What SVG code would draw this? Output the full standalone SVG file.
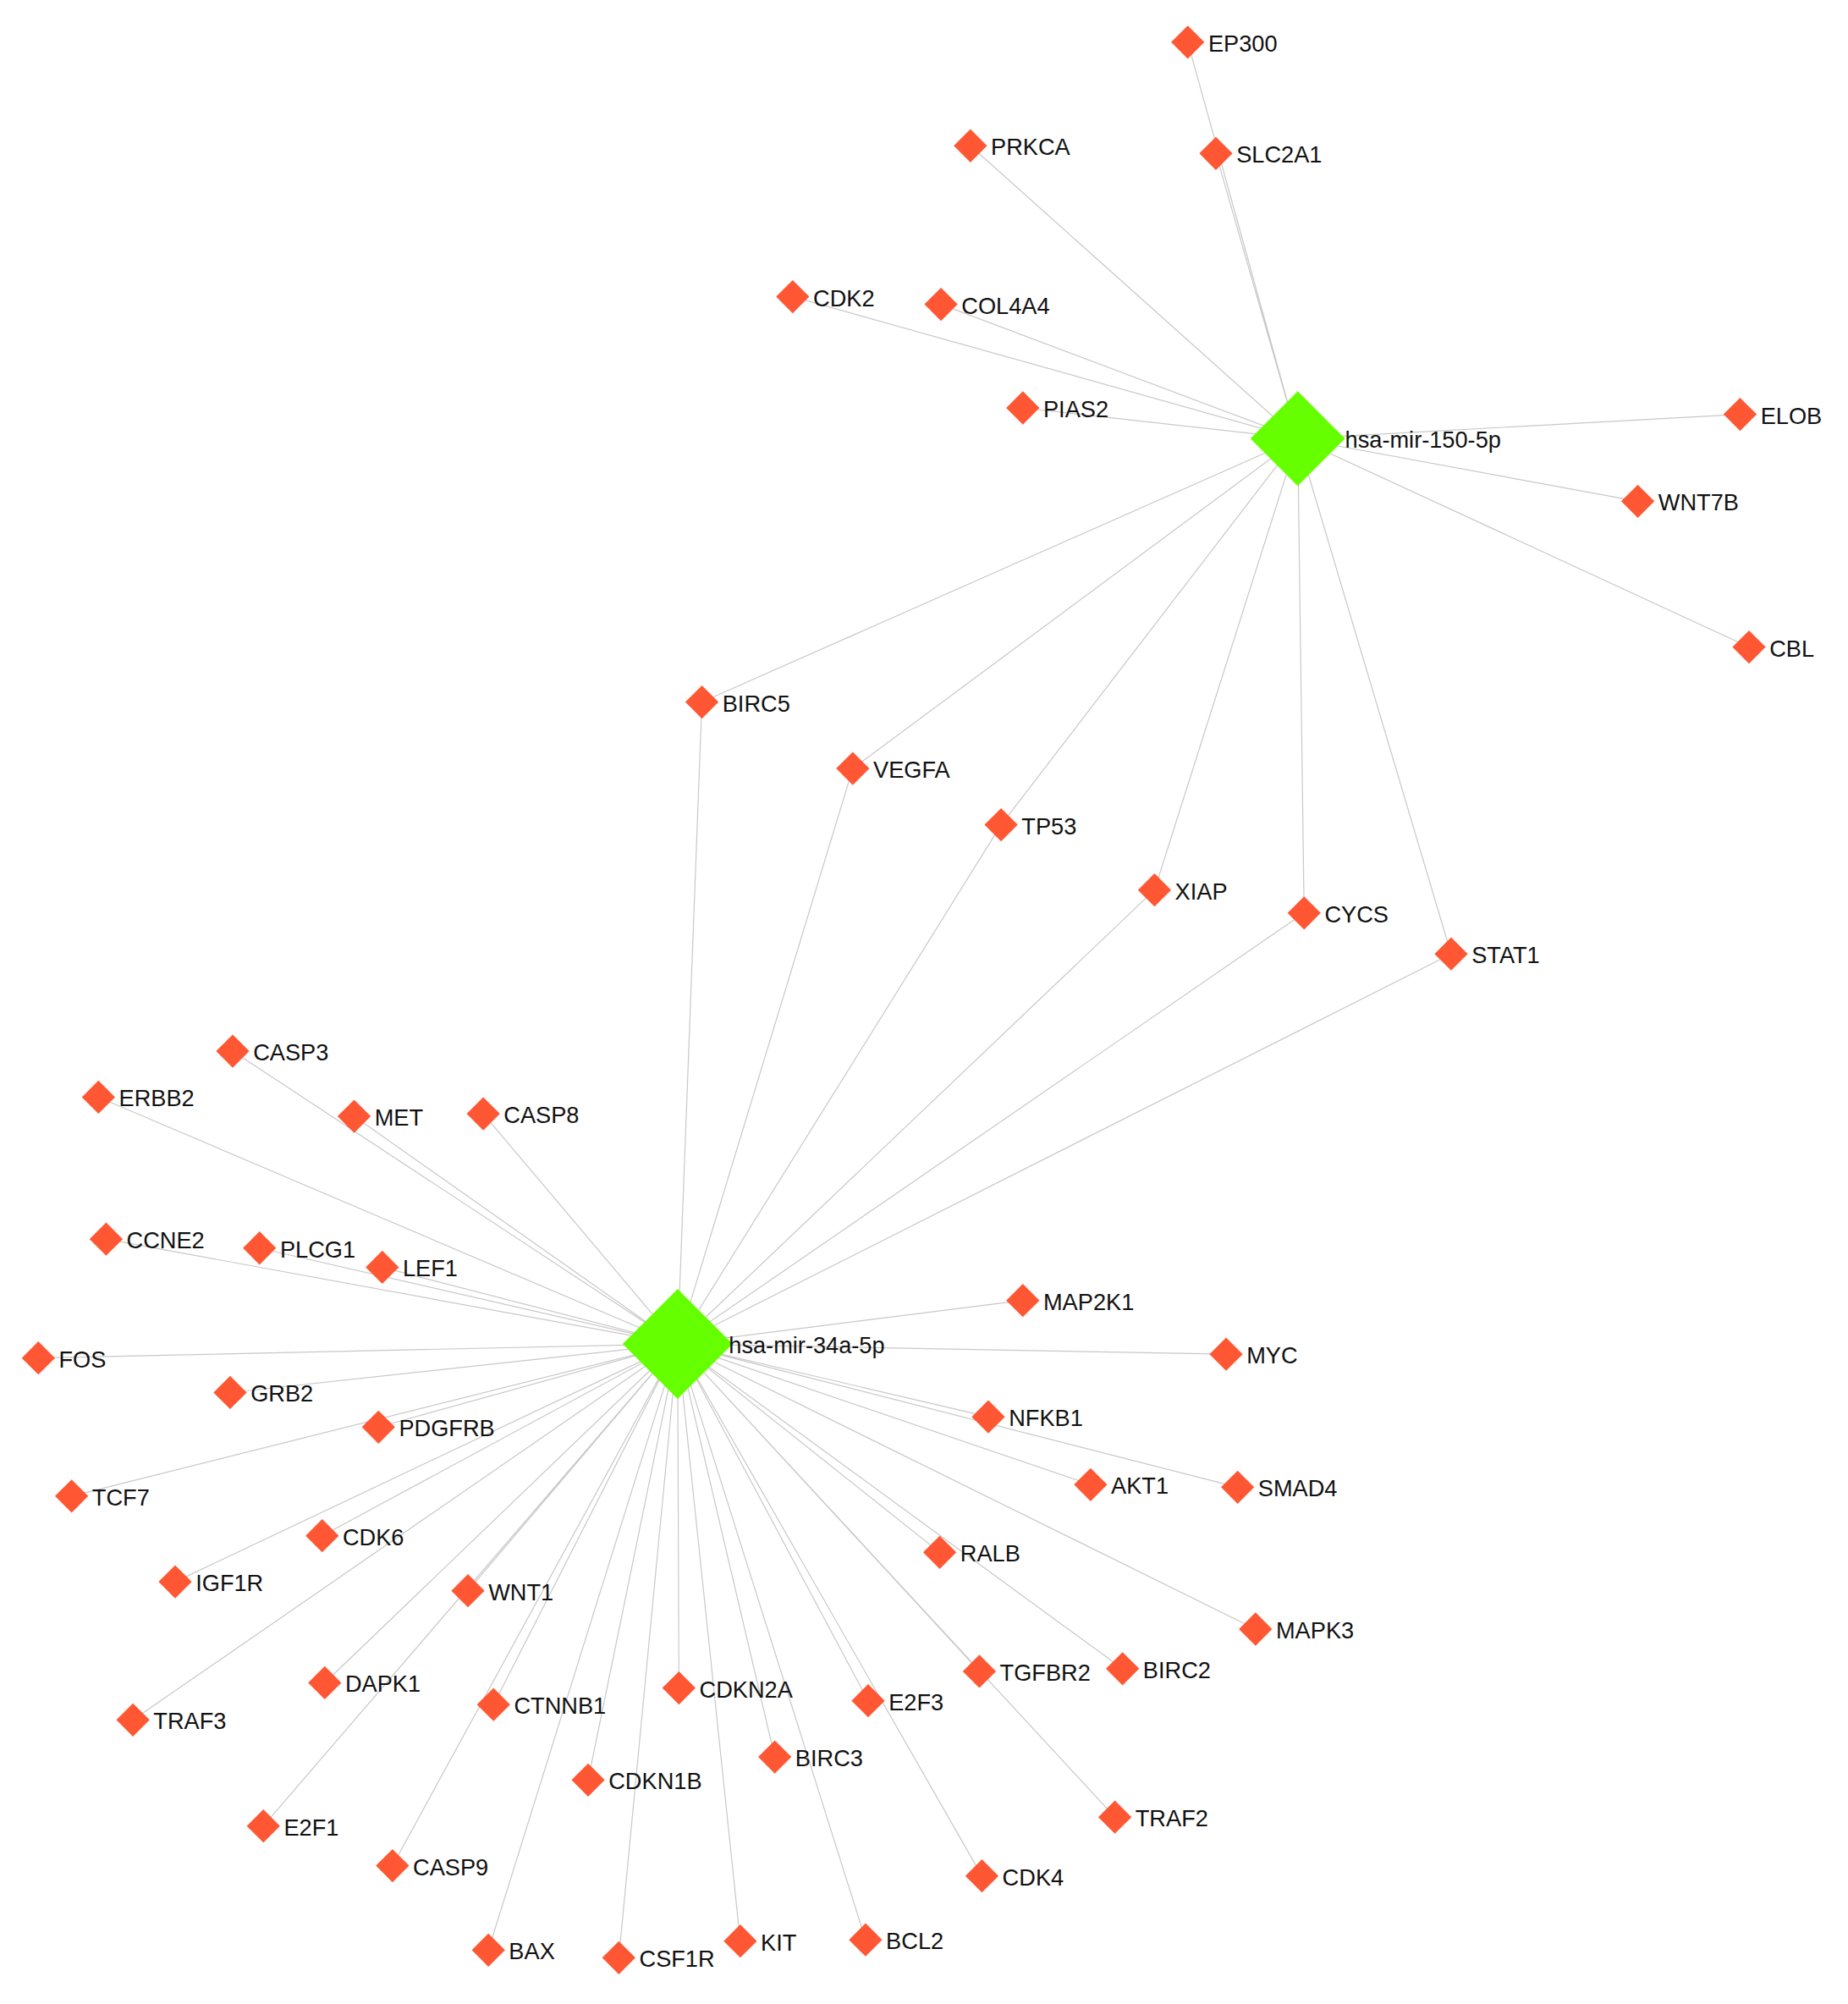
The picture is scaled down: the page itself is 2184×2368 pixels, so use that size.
<svg xmlns="http://www.w3.org/2000/svg" xmlns:xlink="http://www.w3.org/1999/xlink" width="2184" height="2368" viewBox="0 0 2184 2368">
<style>
.e{stroke:#c8c8c8;stroke-width:0.8;fill:none}
.t{font-family:"Liberation Sans",Arial,sans-serif;font-size:18px;fill:#111;dominant-baseline:central}
</style>
<defs>
<polygon id="d" points="0,-13 13,0 0,13 -13,0" fill="#ff5733"/>
<polygon id="h" points="0,-37 37,0 0,37 -37,0" fill="#66ff00"/>
<polygon id="h2" points="0,-43 43,0 0,43 -43,0" fill="#66ff00"/>
</defs>
<rect width="2184" height="2368" fill="#fff"/>
<g transform="scale(1.511)">
<g id="edges">
<path class="e" d="M1015,343L929,33M1015,343L759,114M1015,343L951,120M1015,343L620,232M1015,343L736,238M1015,343L800,319M1015,343L1361,324M1015,343L1281,392M1015,343L1368,506M1015,343L549,549M1015,343L667,601M1015,343L783,645M1015,343L903,696M1015,343L1020,714M1015,343L1135,746"/>
<path class="e" d="M530,1051L549,549M530,1051L667,601M530,1051L783,645M530,1051L903,696M530,1051L1020,714M530,1051L1135,746M530,1051L182,822M530,1051L77,858M530,1051L277,873M530,1051L378,871M530,1051L83,969M530,1051L203,976M530,1051L299,991M530,1051L30,1062M530,1051L180,1089M530,1051L296,1116M530,1051L56,1170M530,1051L252,1201M530,1051L137,1237M530,1051L366,1244M530,1051L104,1345M530,1051L254,1316M530,1051L386,1333M530,1051L531,1320M530,1051L679,1330M530,1051L766,1307M530,1051L878,1305M530,1051L206,1428M530,1051L460,1392M530,1051L606,1374M530,1051L872,1421M530,1051L307,1459M530,1051L768,1467M530,1051L382,1525M530,1051L484,1531M530,1051L579,1518M530,1051L677,1517M530,1051L800,1017M530,1051L959,1059M530,1051L773,1108M530,1051L853,1161M530,1051L968,1163M530,1051L735,1214M530,1051L982,1274"/>
</g>
<g id="hub1" transform="translate(1015,343)"><use href="#h"/><text class="t" x="37" y="1">hsa-mir-150-5p</text></g>
<g id="hub2" transform="translate(530,1051)"><use href="#h2"/><text class="t" x="40" y="1">hsa-mir-34a-5p</text></g>
<g id="EP300" transform="translate(929,33)"><use href="#d"/><text class="t" x="16" y="1">EP300</text></g>
<g id="PRKCA" transform="translate(759,114)"><use href="#d"/><text class="t" x="16" y="1">PRKCA</text></g>
<g id="SLC2A1" transform="translate(951,120)"><use href="#d"/><text class="t" x="16" y="1">SLC2A1</text></g>
<g id="CDK2" transform="translate(620,232)"><use href="#d"/><text class="t" x="16" y="1">CDK2</text></g>
<g id="COL4A4" transform="translate(736,238)"><use href="#d"/><text class="t" x="16" y="1">COL4A4</text></g>
<g id="PIAS2" transform="translate(800,319)"><use href="#d"/><text class="t" x="16" y="1">PIAS2</text></g>
<g id="ELOB" transform="translate(1361,324)"><use href="#d"/><text class="t" x="16" y="1">ELOB</text></g>
<g id="WNT7B" transform="translate(1281,392)"><use href="#d"/><text class="t" x="16" y="1">WNT7B</text></g>
<g id="CBL" transform="translate(1368,506)"><use href="#d"/><text class="t" x="16" y="1">CBL</text></g>
<g id="BIRC5" transform="translate(549,549)"><use href="#d"/><text class="t" x="16" y="1">BIRC5</text></g>
<g id="VEGFA" transform="translate(667,601)"><use href="#d"/><text class="t" x="16" y="1">VEGFA</text></g>
<g id="TP53" transform="translate(783,645)"><use href="#d"/><text class="t" x="16" y="1">TP53</text></g>
<g id="XIAP" transform="translate(903,696)"><use href="#d"/><text class="t" x="16" y="1">XIAP</text></g>
<g id="CYCS" transform="translate(1020,714)"><use href="#d"/><text class="t" x="16" y="1">CYCS</text></g>
<g id="STAT1" transform="translate(1135,746)"><use href="#d"/><text class="t" x="16" y="1">STAT1</text></g>
<g id="CASP3" transform="translate(182,822)"><use href="#d"/><text class="t" x="16" y="1">CASP3</text></g>
<g id="ERBB2" transform="translate(77,858)"><use href="#d"/><text class="t" x="16" y="1">ERBB2</text></g>
<g id="MET" transform="translate(277,873)"><use href="#d"/><text class="t" x="16" y="1">MET</text></g>
<g id="CASP8" transform="translate(378,871)"><use href="#d"/><text class="t" x="16" y="1">CASP8</text></g>
<g id="CCNE2" transform="translate(83,969)"><use href="#d"/><text class="t" x="16" y="1">CCNE2</text></g>
<g id="PLCG1" transform="translate(203,976)"><use href="#d"/><text class="t" x="16" y="1">PLCG1</text></g>
<g id="LEF1" transform="translate(299,991)"><use href="#d"/><text class="t" x="16" y="1">LEF1</text></g>
<g id="FOS" transform="translate(30,1062)"><use href="#d"/><text class="t" x="16" y="1">FOS</text></g>
<g id="GRB2" transform="translate(180,1089)"><use href="#d"/><text class="t" x="16" y="1">GRB2</text></g>
<g id="PDGFRB" transform="translate(296,1116)"><use href="#d"/><text class="t" x="16" y="1">PDGFRB</text></g>
<g id="TCF7" transform="translate(56,1170)"><use href="#d"/><text class="t" x="16" y="1">TCF7</text></g>
<g id="CDK6" transform="translate(252,1201)"><use href="#d"/><text class="t" x="16" y="1">CDK6</text></g>
<g id="IGF1R" transform="translate(137,1237)"><use href="#d"/><text class="t" x="16" y="1">IGF1R</text></g>
<g id="WNT1" transform="translate(366,1244)"><use href="#d"/><text class="t" x="16" y="1">WNT1</text></g>
<g id="TRAF3" transform="translate(104,1345)"><use href="#d"/><text class="t" x="16" y="1">TRAF3</text></g>
<g id="DAPK1" transform="translate(254,1316)"><use href="#d"/><text class="t" x="16" y="1">DAPK1</text></g>
<g id="CTNNB1" transform="translate(386,1333)"><use href="#d"/><text class="t" x="16" y="1">CTNNB1</text></g>
<g id="CDKN2A" transform="translate(531,1320)"><use href="#d"/><text class="t" x="16" y="1">CDKN2A</text></g>
<g id="E2F3" transform="translate(679,1330)"><use href="#d"/><text class="t" x="16" y="1">E2F3</text></g>
<g id="TGFBR2" transform="translate(766,1307)"><use href="#d"/><text class="t" x="16" y="1">TGFBR2</text></g>
<g id="BIRC2" transform="translate(878,1305)"><use href="#d"/><text class="t" x="16" y="1">BIRC2</text></g>
<g id="E2F1" transform="translate(206,1428)"><use href="#d"/><text class="t" x="16" y="1">E2F1</text></g>
<g id="CDKN1B" transform="translate(460,1392)"><use href="#d"/><text class="t" x="16" y="1">CDKN1B</text></g>
<g id="BIRC3" transform="translate(606,1374)"><use href="#d"/><text class="t" x="16" y="1">BIRC3</text></g>
<g id="TRAF2" transform="translate(872,1421)"><use href="#d"/><text class="t" x="16" y="1">TRAF2</text></g>
<g id="CASP9" transform="translate(307,1459)"><use href="#d"/><text class="t" x="16" y="1">CASP9</text></g>
<g id="CDK4" transform="translate(768,1467)"><use href="#d"/><text class="t" x="16" y="1">CDK4</text></g>
<g id="BAX" transform="translate(382,1525)"><use href="#d"/><text class="t" x="16" y="1">BAX</text></g>
<g id="CSF1R" transform="translate(484,1531)"><use href="#d"/><text class="t" x="16" y="1">CSF1R</text></g>
<g id="KIT" transform="translate(579,1518)"><use href="#d"/><text class="t" x="16" y="1">KIT</text></g>
<g id="BCL2" transform="translate(677,1517)"><use href="#d"/><text class="t" x="16" y="1">BCL2</text></g>
<g id="MAP2K1" transform="translate(800,1017)"><use href="#d"/><text class="t" x="16" y="1">MAP2K1</text></g>
<g id="MYC" transform="translate(959,1059)"><use href="#d"/><text class="t" x="16" y="1">MYC</text></g>
<g id="NFKB1" transform="translate(773,1108)"><use href="#d"/><text class="t" x="16" y="1">NFKB1</text></g>
<g id="AKT1" transform="translate(853,1161)"><use href="#d"/><text class="t" x="16" y="1">AKT1</text></g>
<g id="SMAD4" transform="translate(968,1163)"><use href="#d"/><text class="t" x="16" y="1">SMAD4</text></g>
<g id="RALB" transform="translate(735,1214)"><use href="#d"/><text class="t" x="16" y="1">RALB</text></g>
<g id="MAPK3" transform="translate(982,1274)"><use href="#d"/><text class="t" x="16" y="1">MAPK3</text></g>
</g>
</svg>
